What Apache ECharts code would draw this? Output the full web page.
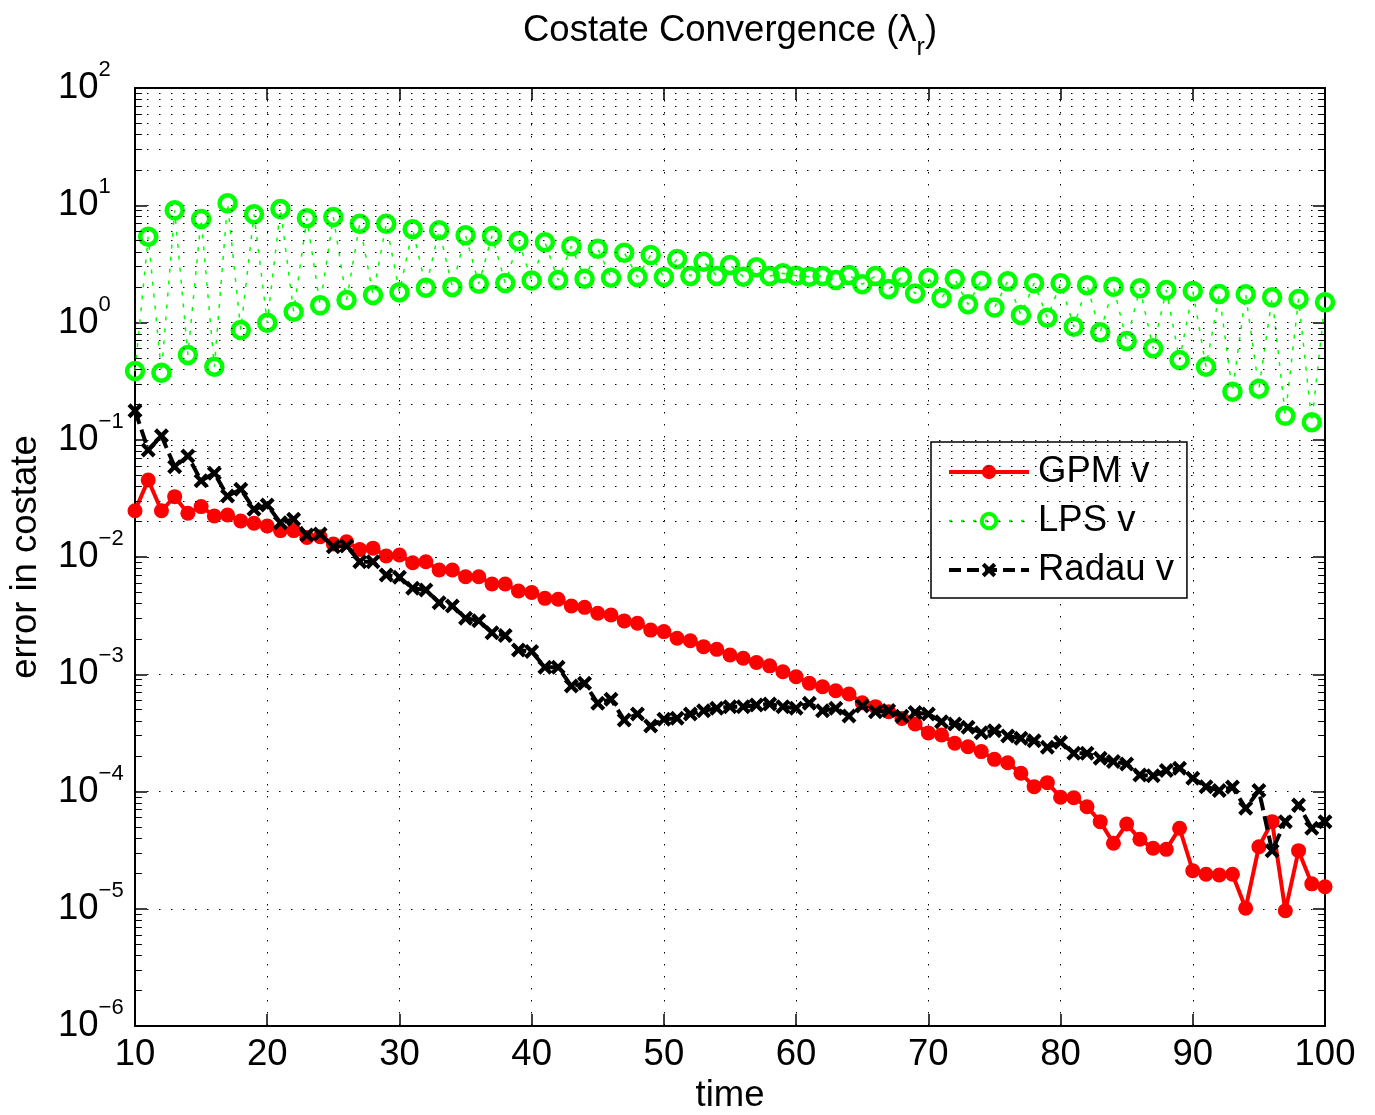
<!DOCTYPE html>
<html>
<head>
<meta charset="utf-8">
<script src="https://cdn.jsdelivr.net/npm/echarts@6/dist/echarts.min.js"></script>
<style>
html,body{margin:0;padding:0;background:#fff;}
#chart{width:1375px;height:1115px;}
</style>
</head>
<body>
<div id="chart"></div>
<script>
const timeVals = [10,11,12,13,14,15,16,17,18,19,20,21,22,23,24,25,26,27,28,29,30,31,32,33,34,35,36,37,38,39,40,41,42,43,44,45,46,47,48,49,50,51,52,53,54,55,56,57,58,59,60,61,62,63,64,65,66,67,68,69,70,71,72,73,74,75,76,77,78,79,80,81,82,83,84,85,86,87,88,89,90,91,92,93,94,95,96,97,98,99,100];

const gpmVals = [2.48e-2,4.54e-2,2.48e-2,3.27e-2,2.36e-2,2.69e-2,2.24e-2,2.28e-2,2.03e-2,1.94e-2,
1.84e-2,1.68e-2,1.68e-2,1.47e-2,1.49e-2,1.29e-2,1.35e-2,1.16e-2,1.19e-2,1.02e-2,
1.04e-2,8.94e-3,9.12e-3,7.75e-3,7.75e-3,6.79e-3,6.79e-3,5.89e-3,5.89e-3,5.13e-3,
4.98e-3,4.44e-3,4.36e-3,3.82e-3,3.72e-3,3.31e-3,3.20e-3,2.85e-3,2.72e-3,2.38e-3,
2.31e-3,2.03e-3,1.93e-3,1.72e-3,1.63e-3,1.46e-3,1.37e-3,1.26e-3,1.18e-3,1.05e-3,
9.53e-4,8.37e-4,7.83e-4,7.24e-4,6.79e-4,5.72e-4,5.29e-4,4.79e-4,4.20e-4,3.76e-4,
3.16e-4,3.03e-4,2.58e-4,2.41e-4,2.19e-4,1.88e-4,1.76e-4,1.43e-4,1.10e-4,1.19e-4,
8.92e-5,8.85e-5,7.42e-5,5.53e-5,3.62e-5,5.28e-5,3.91e-5,3.28e-5,3.21e-5,4.86e-5,
2.11e-5,1.97e-5,1.94e-5,1.97e-5,1.01e-5,3.38e-5,5.53e-5,9.62e-6,3.13e-5,1.63e-5,
1.54e-5];

const lpsVals = [0.386,5.39,0.373,9.05,0.528,7.64,0.419,10.4,0.862,8.38,
0.996,9.29,1.236,7.74,1.40,7.94,1.556,6.96,1.716,6.96,
1.81,6.24,1.98,6.12,2.01,5.55,2.14,5.47,2.17,4.96,
2.28,4.83,2.30,4.47,2.36,4.26,2.41,3.94,2.44,3.76,
2.44,3.48,2.49,3.30,2.49,3.09,2.46,2.96,2.49,2.63,
2.51,2.46,2.49,2.30,2.54,2.12,2.49,1.93,2.44,1.77,
2.40,1.62,2.35,1.43,2.27,1.34,2.25,1.16,2.16,1.10,
2.16,0.921,2.08,0.825,2.02,0.695,1.96,0.603,1.89,0.479,
1.86,0.419,1.75,0.257,1.74,0.272,1.64,0.160,1.59,0.141,
1.49];

const radauVals = [0.177,0.0818,0.108,0.0589,0.0727,0.0447,0.0518,0.0331,0.0378,0.0255,
0.0278,0.0196,0.0210,0.0154,0.0157,0.0122,0.0124,9.12e-3,9.12e-3,7.02e-3,
6.71e-3,5.41e-3,5.23e-3,4.08e-3,3.82e-3,3.00e-3,2.86e-3,2.26e-3,2.14e-3,1.61e-3,
1.56e-3,1.15e-3,1.15e-3,7.94e-4,8.37e-4,5.65e-4,6.12e-4,4.07e-4,4.58e-4,3.62e-4,
4.13e-4,4.21e-4,4.58e-4,4.89e-4,5.12e-4,5.29e-4,5.29e-4,5.47e-4,5.58e-4,5.29e-4,
5.12e-4,5.65e-4,4.89e-4,5.12e-4,4.41e-4,5.36e-4,4.79e-4,4.90e-4,4.38e-4,4.72e-4,
4.58e-4,3.94e-4,3.76e-4,3.53e-4,3.17e-4,3.30e-4,2.97e-4,2.84e-4,2.71e-4,2.38e-4,
2.63e-4,2.12e-4,2.12e-4,1.92e-4,1.80e-4,1.72e-4,1.38e-4,1.36e-4,1.51e-4,1.58e-4,
1.30e-4,1.10e-4,1.02e-4,1.09e-4,7.19e-5,1.02e-4,3.13e-5,5.53e-5,7.67e-5,4.86e-5,
5.53e-5];

const seriesNames = ['GPM v', 'LPS v', 'Radau v'];
const decadeExponents = [-6,-5,-4,-3,-2,-1,0,1];
const minorMantissas = [2,3,4,5,6,7,8,9];
const xMin = 10, xMax = 100, xInterval = 10;
const yMin = 1e-6, yMax = 1e2;

const FONT = '"Liberation Sans", Arial, Helvetica, sans-serif';
const FS = 36.5;

const minorVals = [];
decadeExponents.forEach(e => minorMantissas.forEach(m => minorVals.push(parseFloat((m + 'e' + e)))));

function pairs(vals) { return timeVals.map((t, i) => [t, vals[i]]); }

const xSymbol = 'path://M0,2 L2,0 L5,3 L8,0 L10,2 L7,5 L10,8 L8,10 L5,7 L2,10 L0,8 L3,5 Z';

const dotted = [1.5, 10.5];
const gpmLine = {color: '#ff0000', width: 4, type: 'solid'};
const lpsLine = {color: '#00ff00', width: 1.5, type: [4, 8]};
const radauLine = {color: '#000000', width: 4, type: [14, 6]};
const lpsItem = {color: 'rgba(0,0,0,0)', borderColor: '#00ff00', borderWidth: 4.5};

const chart = echarts.init(document.getElementById('chart'), null, {renderer: 'canvas'});
const option = {
  animation: false,
  backgroundColor: '#fff',
  title: {
    text: '{a|Costate Convergence (λ}{b|r}{a|)}',
    left: 730, top: 0, textAlign: 'center', padding: 0,
    textStyle: {
      fontWeight: 'normal',
      rich: {
        a: {fontSize: FS, fontFamily: FONT, fontWeight: 'normal', color: '#000', verticalAlign: 'middle'},
        b: {fontSize: 25, fontFamily: FONT, fontWeight: 'normal', color: '#000', verticalAlign: 'middle', padding: [36, 0, 0, 0]}
      }
    }
  },
  legend: {
    data: [
      {name: seriesNames[0], lineStyle: {width: 4}},
      {name: seriesNames[1], lineStyle: {width: 2.5, type: [3, 9]}, itemStyle: {borderWidth: 4}},
      {name: seriesNames[2], lineStyle: {width: 4, type: [12, 6]}}
    ],
    orient: 'vertical',
    left: 931, top: 442,
    itemWidth: 80, itemHeight: 18, itemGap: 9,
    padding: [10, 13, 8, 16],
    borderColor: '#000', borderWidth: 1.5, borderRadius: 0,
    backgroundColor: '#fff',
    textStyle: {fontSize: FS, fontFamily: FONT, color: '#000', lineHeight: 40, padding: [0, 0, 0, 4]}
  },
  grid: {left: 135, right: 50, top: 88, bottom: 89, containLabel: false, outerBoundsMode: 'none', show: false},
  xAxis: [{
    type: 'value', min: xMin, max: xMax, interval: xInterval, position: 'bottom',
    name: 'time', nameLocation: 'middle', nameGap: 47,
    nameTextStyle: {fontSize: FS, fontFamily: FONT, color: '#000'},
    axisLine: {show: true, onZero: false, lineStyle: {color: '#000', width: 2}},
    axisTick: {show: true, inside: true, length: 12, lineStyle: {color: '#000', width: 1.5}},
    axisLabel: {show: true, margin: 10, fontSize: FS, fontFamily: FONT, color: '#000'},
    splitLine: {show: true, lineStyle: {color: '#000', width: 1, type: dotted}}
  }, {
    type: 'value', min: xMin, max: xMax, interval: xInterval, position: 'top',
    axisLine: {show: true, onZero: false, lineStyle: {color: '#000', width: 2}},
    axisTick: {show: true, inside: true, length: 12, lineStyle: {color: '#000', width: 1.5}},
    axisLabel: {show: false}, splitLine: {show: false}
  }],
  yAxis: [{
    type: 'log', logBase: 10, min: yMin, max: yMax, splitNumber: 8, position: 'left',
    name: 'error in costate', nameLocation: 'middle', nameGap: 91,
    nameTextStyle: {fontSize: FS, fontFamily: FONT, color: '#000'},
    axisLine: {show: true, onZero: false, lineStyle: {color: '#000', width: 2}},
    axisTick: {show: true, inside: true, length: 12, lineStyle: {color: '#000', width: 1.5}},
    axisLabel: {
      show: true, margin: 77, align: 'left',
      formatter: function (v) {
        const e = Math.round(Math.log10(v));
        return '{b|10}{s|' + (e < 0 ? '\u2212' + (-e) : e) + '}';
      },
      rich: {
        b: {fontSize: FS, fontFamily: FONT, color: '#000', verticalAlign: 'middle'},
        s: {fontSize: 22, fontFamily: FONT, color: '#000', verticalAlign: 'middle', padding: [0, 0, 36, 0]}
      }
    },
    splitLine: {show: true, lineStyle: {color: '#000', width: 1, type: dotted}}
  }, {
    type: 'log', logBase: 10, min: yMin, max: yMax, splitNumber: 8, position: 'right',
    axisLine: {show: true, onZero: false, lineStyle: {color: '#000', width: 2}},
    axisTick: {show: true, inside: true, length: 12, lineStyle: {color: '#000', width: 1.5}},
    axisLabel: {show: false}, splitLine: {show: false}
  }],
  series: [
    {
      name: 'minorGrid', type: 'line', data: [], z: 1, silent: true,
      markLine: {
        silent: true, symbol: 'none', label: {show: false}, animation: false,
        lineStyle: {color: '#000', width: 1, type: dotted},
        emphasis: {disabled: true},
        data: minorVals.map(v => ({yAxis: v}))
      }
    },
    {
      name: 'minorTicks', type: 'line', data: [], z: 5, silent: true,
      markLine: {
        silent: true, symbol: 'none', label: {show: false}, animation: false,
        lineStyle: {color: '#000', width: 1, type: 'solid'},
        emphasis: {disabled: true},
        data: minorVals.map(v => [{coord: [xMin, v]}, {coord: [xMin + 0.52, v]}])
          .concat(minorVals.map(v => [{coord: [xMax - 0.52, v]}, {coord: [xMax, v]}]))
      }
    },
    {
      name: seriesNames[0], type: 'line', z: 3, data: pairs(gpmVals),
      symbol: 'circle', symbolSize: 15,
      itemStyle: {color: '#ff0000'},
      lineStyle: gpmLine
    },
    {
      name: seriesNames[1], type: 'line', z: 3, data: pairs(lpsVals),
      symbol: 'circle', symbolSize: 16,
      itemStyle: lpsItem,
      lineStyle: lpsLine
    },
    {
      name: seriesNames[2], type: 'line', z: 4, data: pairs(radauVals),
      symbol: xSymbol, symbolSize: 15,
      itemStyle: {color: '#000'},
      lineStyle: radauLine
    }
  ]
};
chart.setOption(option);
</script>
</body>
</html>
